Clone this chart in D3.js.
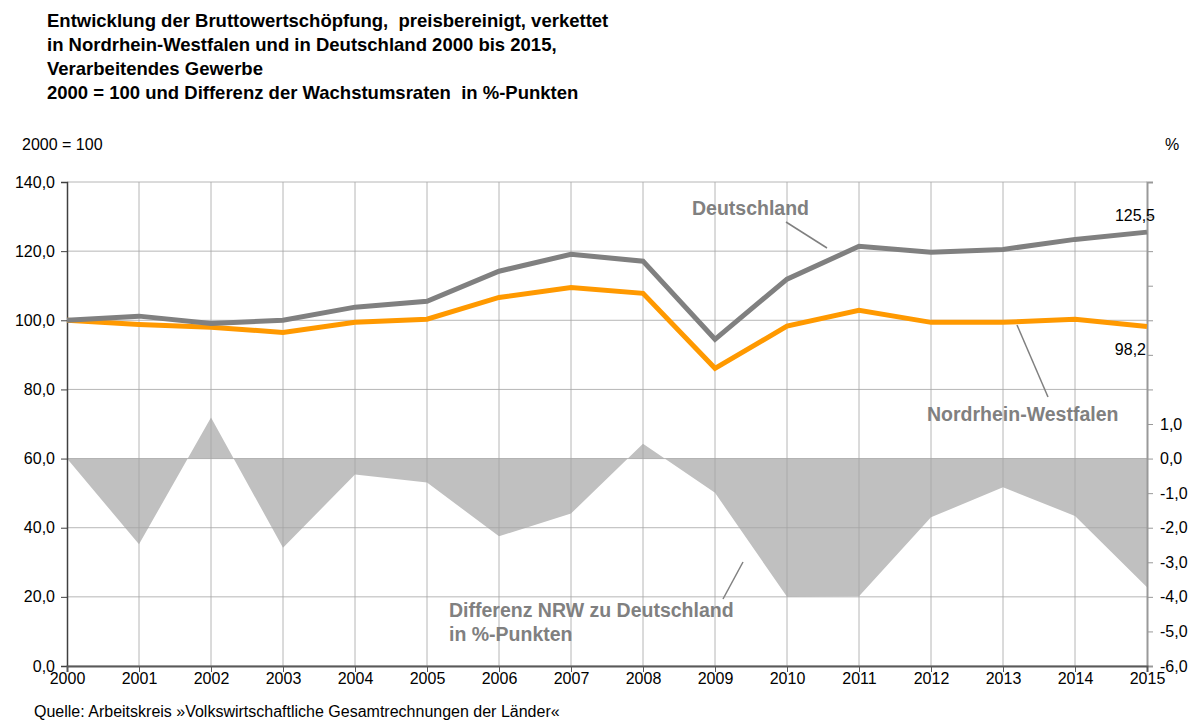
<!DOCTYPE html>
<html>
<head>
<meta charset="utf-8">
<script src="https://cdn.jsdelivr.net/npm/d3@7"></script>
<style>
  body { margin: 0; background: #fff; }
  text { font-family: "Liberation Sans", Arial, sans-serif; }
</style>
</head>
<body>
<script>
// data
var years = [2000, 2001, 2002, 2003, 2004, 2005, 2006, 2007, 2008, 2009, 2010, 2011, 2012, 2013, 2014, 2015];
var deutschland = [100, 101.2, 99.1, 100.0, 103.8, 105.5, 114.2, 119.1, 117.1, 94.5, 111.9, 121.4, 119.7, 120.5, 123.4, 125.5];
var nrw = [100, 98.8, 98.0, 96.5, 99.4, 100.3, 106.6, 109.5, 107.8, 86.1, 98.3, 102.9, 99.4, 99.4, 100.3, 98.2];
var differenz = [0, -2.48, 1.19, -2.58, -0.46, -0.69, -2.25, -1.59, 0.43, -0.99, -4.0, -3.98, -1.7, -0.83, -1.66, -3.72];
var leftTicks = [0, 20, 40, 60, 80, 100, 120, 140];
var rightTicks = [-6, -5, -4, -3, -2, -1, 0, 1, 2, 3, 4, 5, 6, 7, 8];
var titleLines = [
  "Entwicklung der Bruttowertschöpfung,  preisbereinigt, verkettet",
  "in Nordrhein-Westfalen und in Deutschland 2000 bis 2015,",
  "Verarbeitendes Gewerbe",
  "2000 = 100 und Differenz der Wachstumsraten  in %-Punkten"
];

var W = 1192, H = 720;
var svg = d3.select("body").append("svg")
  .attr("width", W)
  .attr("height", H);

var x = d3.scaleLinear().domain([2000, 2015]).range([67, 1147]);
var yL = d3.scaleLinear().domain([0, 140]).range([666, 182]);
var yR = d3.scaleLinear().domain([-6, 8]).range([666, 182]);

var comma = function(v) { return d3.format(".1f")(v).replace(".", ",").replace("\u2212", "-"); };

// title
svg.append("g").selectAll("text")
  .data(titleLines)
  .enter().append("text")
  .attr("x", 47)
  .attr("y", function(d, i) { return 27 + i * 24; })
  .style("font-size", "18.5px")
  .style("font-weight", "bold")
  .style("fill", "#000")
  .attr("xml:space", "preserve")
  .text(function(d) { return d; });

svg.append("text").attr("x", 22).attr("y", 150)
  .style("font-size", "16px").text("2000 = 100");
svg.append("text").attr("x", 1165).attr("y", 150)
  .style("font-size", "16px").text("%");

// difference area (right axis)
var area = d3.area()
  .x(function(d, i) { return x(years[i]); })
  .y0(yR(0))
  .y1(function(d) { return yR(d); });
svg.append("path")
  .datum(differenz)
  .attr("d", area)
  .style("fill", "#c0c0c0");

// gridlines
svg.append("g").selectAll("line")
  .data(leftTicks)
  .enter().append("line")
  .attr("x1", x(2000)).attr("x2", x(2015))
  .attr("y1", function(d) { return yL(d); })
  .attr("y2", function(d) { return yL(d); })
  .style("stroke", "#a6a6a6")
  .style("stroke-width", 1)
  .style("opacity", 0.8);

svg.append("g").selectAll("line")
  .data(years.slice(1, -1))
  .enter().append("line")
  .attr("x1", function(d) { return x(d); })
  .attr("x2", function(d) { return x(d); })
  .attr("y1", yL(140)).attr("y2", yL(0))
  .style("stroke", "#a6a6a6")
  .style("stroke-width", 1)
  .style("opacity", 0.8);

// left axis
var axL = svg.append("g").attr("transform", "translate(" + x(2000) + ",0)")
  .call(d3.axisLeft(yL).tickValues(leftTicks).tickSize(6).tickPadding(6).tickFormat(comma));
axL.select(".domain").style("stroke", "#404040").style("stroke-width", 1.5);
axL.selectAll(".tick line").style("stroke", "#404040");
axL.selectAll(".tick text").style("font-size", "16px").style("fill", "#000")
  .style("font-family", "Liberation Sans, Arial, sans-serif");

// right axis
var axR = svg.append("g").attr("transform", "translate(" + x(2015) + ",0)")
  .call(d3.axisRight(yR).tickValues(rightTicks).tickSize(6).tickPadding(7)
    .tickFormat(function(d) { return d <= 1 ? comma(d) : ""; }));
axR.select(".domain").style("stroke", "#999").style("stroke-width", 2);
axR.selectAll(".tick line").style("stroke", "#999");
axR.selectAll(".tick text").style("font-size", "16px").style("fill", "#000")
  .style("font-family", "Liberation Sans, Arial, sans-serif");

// bottom axis
var axB = svg.append("g").attr("transform", "translate(0," + yL(0) + ")")
  .call(d3.axisBottom(x).tickValues(years).tickSize(6).tickPadding(1).tickFormat(d3.format("d")));
axB.select(".domain").style("stroke", "#595959").style("stroke-width", 2);
axB.selectAll(".tick line").style("stroke", "#595959");
axB.selectAll(".tick text").style("font-size", "16px").style("fill", "#000")
  .style("font-family", "Liberation Sans, Arial, sans-serif");

// lines
var line = function(vals) {
  return d3.line()
    .x(function(d, i) { return x(years[i]); })
    .y(function(d) { return yL(d); })(vals);
};
svg.append("path").attr("d", line(nrw))
  .style("fill", "none").style("stroke", "#ff9900").style("stroke-width", 5)
  .style("stroke-linejoin", "miter");
svg.append("path").attr("d", line(deutschland))
  .style("fill", "none").style("stroke", "#808080").style("stroke-width", 5)
  .style("stroke-linejoin", "miter");

// end labels
svg.append("text").attr("x", 1155).attr("y", 221).attr("text-anchor", "end")
  .style("font-size", "16px").text(comma(deutschland[deutschland.length - 1]));
svg.append("text").attr("x", 1146).attr("y", 355).attr("text-anchor", "end")
  .style("font-size", "16px").text(comma(nrw[nrw.length - 1]));

// series labels with leader lines
var labels = [
  { t: ["Deutschland"], x: 692, y: 215, l: [786, 222, 827, 248] },
  { t: ["Nordrhein-Westfalen"], x: 927, y: 421, l: [1017, 325, 1048, 397] },
  { t: ["Differenz NRW zu Deutschland", "in %-Punkten"], x: 449, y: 617, l: [743, 562, 723, 599] }
];
labels.forEach(function(lb) {
  svg.append("line")
    .attr("x1", lb.l[0]).attr("y1", lb.l[1]).attr("x2", lb.l[2]).attr("y2", lb.l[3])
    .style("stroke", "#808080").style("stroke-width", 1.5);
  lb.t.forEach(function(s, i) {
    svg.append("text").attr("x", lb.x).attr("y", lb.y + i * 24)
      .style("font-size", "19.5px").style("font-weight", "bold").style("fill", "#808080")
      .text(s);
  });
});

// source
svg.append("text").attr("x", 34).attr("y", 717)
  .style("font-size", "16px").text("Quelle: Arbeitskreis \u00bbVolkswirtschaftliche Gesamtrechnungen der L\u00e4nder\u00ab");
</script>
</body>
</html>
